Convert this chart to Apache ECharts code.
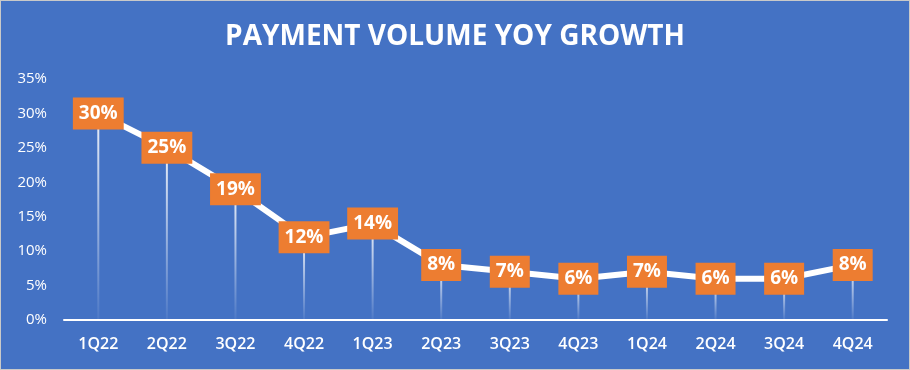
<!DOCTYPE html>
<html><head><meta charset="utf-8">
<script src="https://cdn.jsdelivr.net/npm/echarts@6/dist/echarts.min.js"></script>
<style>html,body{margin:0;padding:0;background:#4472C4}#c{width:910px;height:370px;box-sizing:border-box;border:1px solid #c9c9c9}</style>
</head><body><div id="c"></div>
<script>
const categories = ['1Q22','2Q22','3Q22','4Q22','1Q23','2Q23','3Q23','4Q23','1Q24','2Q24','3Q24','4Q24'];
const growth = [30,25,19,12,14,8,7,6,7,6,6,8];
const yTicks = [0,5,10,15,20,25,30,35];

const chart = echarts.init(document.getElementById('c'));
const font = 'Open Sans, Lato, sans-serif';
chart.setOption({
  backgroundColor: '#4472C4',
  animation: false,
  title: {
    text: 'PAYMENT VOLUME YOY GROWTH',
    left: 'center', top: 17,
    textStyle: {color: '#fff', fontFamily: font, fontWeight: 'bold', fontSize: 28}
  },
  grid: {left: 63, right: 22, top: 78, bottom: 49},
  xAxis: {
    type: 'category', data: categories, boundaryGap: true,
    axisLine: {lineStyle: {color: '#fff', width: 2}},
    axisTick: {show: false},
    axisLabel: {color: '#fff', fontFamily: font, fontWeight: 600, fontSize: 16, margin: 16}
  },
  yAxis: {
    type: 'value', min: yTicks[0], max: yTicks[yTicks.length-1], interval: 5,
    axisLine: {show: false}, axisTick: {show: false}, splitLine: {show: false},
    axisLabel: {color: '#fff', fontFamily: font, fontSize: 15, margin: 17, formatter: '{value}%'}
  },
  series: [
    {
      type: 'bar', data: growth, barWidth: 2, z: 1, silent: true,
      itemStyle: {color: new echarts.graphic.LinearGradient(0,0,0,1,[
        {offset: 0, color: 'rgba(255,255,255,0.9)'},
        {offset: 1, color: 'rgba(255,255,255,0.05)'}])}
    },
    {
      type: 'line', data: growth, z: 3,
      symbol: 'circle', symbolSize: 1,
      lineStyle: {color: '#fff', width: 6},
      itemStyle: {color: '#fff'},
      label: {
        show: true, position: 'inside', formatter: '{c}%',
        color: '#fff', fontFamily: font, fontWeight: 'bold', fontSize: 19,
        backgroundColor: '#ED7D31', padding: [7, 6, 6, 6]
      }
    }
  ]
});
</script></body></html>
